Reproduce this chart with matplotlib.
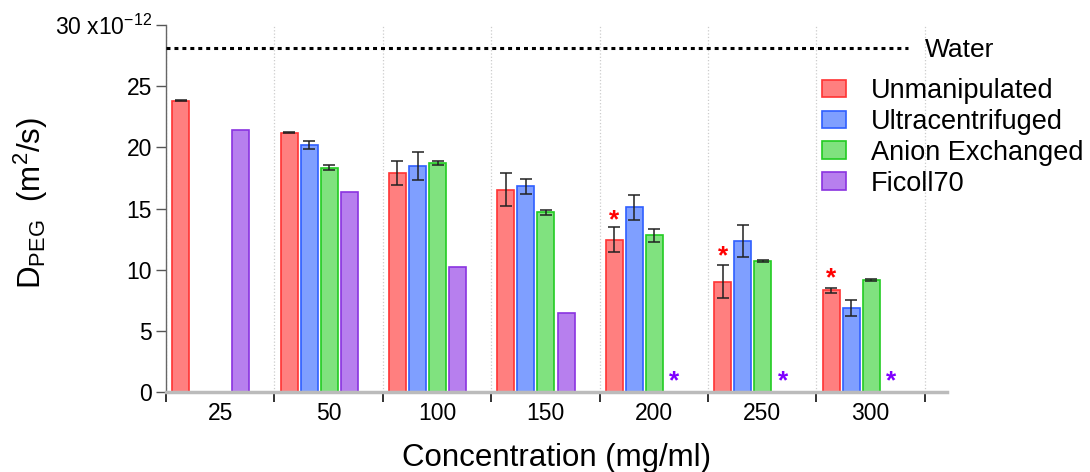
import numpy as np
import matplotlib
matplotlib.use("Agg")
import matplotlib.pyplot as plt

plt.rcParams['font.family'] = ['Liberation Sans', 'DejaVu Sans']
plt.rcParams['mathtext.fontset'] = 'custom'
plt.rcParams['mathtext.rm'] = 'Liberation Sans'
plt.rcParams['mathtext.it'] = 'Liberation Sans:italic'

# data (x 1e-12 m^2/s)
groups = ['25', '50', '100', '150', '200', '250', '300']
unmanip = [23.8, 21.2, 17.9, 16.55, 12.45, 9.0, 8.3]
unmanip_err = [0.05, 0.05, 1.0, 1.35, 1.0, 1.35, 0.2]
ultra = [0.0, 20.2, 18.5, 16.8, 15.1, 12.35, 6.9]
ultra_err = [np.nan, 0.35, 1.15, 0.65, 1.0, 1.3, 0.65]
anion = [np.nan, 18.35, 18.7, 14.7, 12.8, 10.7, 9.15]
anion_err = [np.nan, 0.2, 0.15, 0.2, 0.5, 0.05, 0.05]
ficoll = [21.4, 16.35, 10.2, 6.45, np.nan, np.nan, np.nan]
water = 28.1

# significance markers
red_star_groups = [4, 5, 6]
red_star_y = [14.0, 11.1, 9.3]
purple_star_groups = [4, 5, 6]
purple_star_y = [0.85, 0.85, 0.85]

series = [
    ('Unmanipulated', unmanip, unmanip_err, '#FF7F7F', '#FF3333'),
    ('Ultracentrifuged', ultra, ultra_err, '#7F9FFF', '#2F5FFF'),
    ('Anion Exchanged', anion, anion_err, '#80E27F', '#22CC22'),
    ('Ficoll70', ficoll, None, '#B77FEE', '#8A33E0'),
]

fig = plt.figure(figsize=(10.9, 4.72), dpi=100)
ax = fig.add_axes([166/1090, 1-392/472, (947-166)/1090, (392-25)/472])

n = len(groups)
x0 = np.arange(n)
bw = 0.157
pitch = 0.185
start = 0.057

for k, (name, vals, errs, fc, ec) in enumerate(series):
    xs = x0 + start + bw/2 + k*pitch
    ax.bar(xs, vals, width=bw, color=fc, edgecolor=ec, linewidth=1.2, label=name, zorder=2)
    if errs is not None:
        ax.errorbar(xs, vals, yerr=errs, fmt='none', ecolor='#222222', elinewidth=1.1,
                    capsize=4.5, capthick=1.1, zorder=3)

for g, y in zip(red_star_groups, red_star_y):
    ax.text(g + start + bw/2, y, '*', color='red', fontsize=19, fontweight='bold',
            ha='center', va='center', zorder=4)
for g, y in zip(purple_star_groups, purple_star_y):
    ax.text(g + start + bw/2 + 3*pitch, y, '*', color='#7F00FF', fontsize=19, fontweight='bold',
            ha='center', va='center', zorder=4)

ax.plot([0, 6.845], [water, water], color='black', linestyle=(0, (1.3, 1.3)), linewidth=2.2, zorder=3)
ax.text(7.0, 27.35, 'Water', fontsize=19, ha='left', va='baseline')

ax.set_xlim(0, 7.205)
ax.set_ylim(0, 30)

ax.set_xticks(x0 + 0.5)
ax.set_xticklabels(groups, fontsize=16.5)
ax.set_xticks(np.arange(0, n + 1), minor=True)
ax.tick_params(axis='x', which='major', length=0, pad=7)
ax.tick_params(axis='x', which='minor', length=7, width=1.3, color='#222222', direction='out')
ax.grid(True, axis='x', which='minor', color='#cccccc', linestyle=':', linewidth=0.9, zorder=0)

yt = [0, 5, 10, 15, 20, 25, 30]
ylab = ['0', '5', '10', '15', '20', '25', r'30 x10$^{-12}$']
ax.set_yticks(yt)
ax.set_yticklabels(ylab, fontsize=16.5)
ax.tick_params(axis='y', length=7, width=1, color='#555555', direction='out', pad=3)

ax.spines['top'].set_visible(False)
ax.spines['right'].set_visible(False)
ax.spines['left'].set_color('#666666')
ax.spines['left'].set_linewidth(1.0)
ax.spines['bottom'].set_color('#bbbbbb')
ax.spines['bottom'].set_linewidth(2.5)
ax.spines['bottom'].set_zorder(5)

ax.set_xlabel('Concentration (mg/ml)', fontsize=22.5, labelpad=13)
ax.set_ylabel(r'D$_{\mathrm{PEG}}$  (m$^{2}$/s)', fontsize=22.5)
ax.yaxis.set_label_coords(-0.1485, 0.514)

leg = ax.legend(loc='upper left', bbox_to_anchor=(822/1090, 1-78/472), bbox_transform=fig.transFigure,
                frameon=False, fontsize=19.5, handlelength=0.9, handleheight=0.62,
                handletextpad=0.9, labelspacing=0.18, borderpad=0, borderaxespad=0)

fig.savefig('out.png', dpi=100)
